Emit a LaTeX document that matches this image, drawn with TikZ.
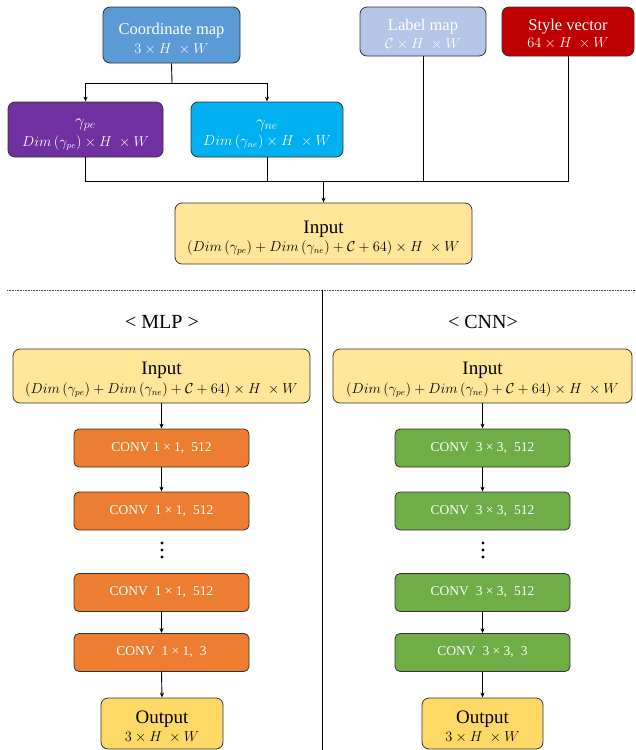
\documentclass[tikz,border=0pt]{standalone}
\usepackage{fontspec}
\setmainfont{Liberation Serif}
\usetikzlibrary{arrows.meta,calc}
\definecolor{cblue}{HTML}{5B9BD5}
\definecolor{clight}{HTML}{B4C7E7}
\definecolor{cred}{HTML}{C00000}
\definecolor{cpurple}{HTML}{7030A0}
\definecolor{ccyan}{HTML}{00B0F0}
\definecolor{cinput}{HTML}{FFE699}
\definecolor{cout}{HTML}{FFD966}
\definecolor{corange}{HTML}{ED7D31}
\definecolor{cgreen}{HTML}{70AD47}
\newcommand{\szT}{\fontsize{16.5}{18}\selectfont}
\newcommand{\szS}{\fontsize{13.5}{15}\selectfont}
\newcommand{\szI}{\fontsize{19}{21}\selectfont}
\newcommand{\lowr}[2]{\raisebox{-#1}[\height][\depth]{#2}}
\newcommand{\inform}{$(Dim\left(\gamma_{pe}\right)+Dim\left(\gamma_{ne}\right)+\mathcal{C}+64)\times H\;\times W$}
\begin{document}
\begin{tikzpicture}[x=1pt,y=-1pt,
  box/.style={draw=black!80, line width=0.8pt, rounded corners=7pt, align=center, inner sep=1pt},
  conv/.style={box, rounded corners=5pt, minimum width=175pt, minimum height=38pt, text=white, font=\fontsize{13.5}{15}\selectfont},
  arr/.style={-{Stealth[length=5pt,width=4pt]}, line width=0.9pt},
  ln/.style={line width=0.9pt}]
\useasboundingbox (0,0) rectangle (636,750);

% top section
\node[box, fill=cblue, text=white, minimum width=137pt, minimum height=56pt] (cmap) at (171.5,35)
  {\szT\lowr{4pt}{Coordinate map}\\[4pt] \szS\lowr{4pt}{$3\times H\;\times W$}};
\node[box, fill=clight, text=white, minimum width=126pt, minimum height=49pt] (lmap) at (423,31.5)
  {\szT\lowr{3pt}{Label map}\\[3.5pt] \szS\lowr{3pt}{$\mathcal{C}\times H\;\times W$}};
\node[box, fill=cred, text=white, minimum width=132pt, minimum height=49pt] (svec) at (568,31.5)
  {\szT\lowr{2.5pt}{Style vector}\\[3pt] \szS\lowr{2.5pt}{$64\times H\;\times W$}};
\node[box, fill=cpurple, text=white, minimum width=155pt, minimum height=55pt] (gpe) at (85.5,129.5)
  {\fontsize{18}{16}\selectfont\lowr{5pt}{$\gamma_{pe}$}\\[3pt] \szS\lowr{5pt}{$Dim\left(\gamma_{pe}\right)\times H\;\times W$}};
\node[box, fill=ccyan, text=white, minimum width=152pt, minimum height=55pt] (gne) at (267,129.5)
  {\fontsize{18}{16}\selectfont\lowr{5pt}{$\gamma_{ne}$}\\[3pt] \szS\lowr{5pt}{$Dim\left(\gamma_{ne}\right)\times H\;\times W$}};
\node[box, fill=cinput, minimum width=297pt, minimum height=61pt] (inp) at (323.5,233.5)
  {\szI\lowr{4.5pt}{Input}\\[2pt] \szS\lowr{4.5pt}{\inform}};

\coordinate (j1) at (172,83);
\coordinate (bus) at (0,181);
\draw[ln] (cmap.south) -- (j1);
\draw[arr] (j1) -| (gpe.north);
\draw[arr] (j1) -| (gne.north);
\draw[ln] (gpe.south) -- (gpe.south |- bus) -- (svec.south |- bus) -- (svec.south);
\draw[ln] (gne.south) -- (gne.south |- bus);
\draw[ln] (lmap.south) -- (lmap.south |- bus);
\draw[arr] (inp.north |- bus) -- (inp.north);

% separators
\coordinate (dl) at (7,290);
\coordinate (dr) at (636,290);
\coordinate (vt) at (322,290);
\coordinate (vb) at (322,750);
\draw[line width=0.7pt, black!70, dash pattern=on 0.8pt off 0.8pt] (dl) -- (dr);
\draw[line width=0.8pt] (vt) -- (vb);

% MLP column
\node[font=\fontsize{20}{22}\selectfont] (mlp) at (162,322) {< MLP >};
\node[box, fill=cinput, minimum width=297pt, minimum height=54pt] (inL) at (161.5,376)
  {\szI\lowr{4pt}{Input}\\[3pt] \szS\lowr{4pt}{\inform}};
\node[conv, fill=corange] (l1) at (161.5,448) {CONV 1 × 1,\; 512};
\node[conv, fill=corange] (l2) at (161.5,511) {CONV\; 1 × 1,\; 512};
\node[conv, fill=corange] (l3) at (161.5,592.5) {CONV\; 1 × 1,\; 512};
\node[conv, fill=corange] (l4) at (161.5,652.5) {CONV\; 1 × 1,\; 3};
\node[box, fill=cout, minimum width=122pt, minimum height=51pt] (outL) at (162,723.5)
  {\szI\lowr{3.5pt}{Output}\\[3pt] \szS\lowr{3.5pt}{$3\times H\;\times W$}};
\fill (162,543) circle (1.6) (162,550) circle (1.6) (162,557) circle (1.6);
\draw[arr] (inL.south) -- (l1.north);
\draw[arr] (l1.south) -- (l2.north);
\draw[arr] (l3.south) -- (l4.north);
\draw[arr] (l4.south) -- (outL.north);

% CNN column
\node[font=\fontsize{20}{22}\selectfont] (cnn) at (483,322) {< CNN>};
\node[box, fill=cinput, minimum width=299pt, minimum height=54pt] (inR) at (482.5,376)
  {\szI\lowr{4pt}{Input}\\[3pt] \szS\lowr{4pt}{\inform}};
\node[conv, fill=cgreen] (r1) at (482.5,448) {CONV\; 3 × 3,\; 512};
\node[conv, fill=cgreen] (r2) at (482.5,511) {CONV\; 3 × 3,\; 512};
\node[conv, fill=cgreen] (r3) at (482.5,592.5) {CONV\; 3 × 3,\; 512};
\node[conv, fill=cgreen] (r4) at (482.5,652.5) {CONV\; 3 × 3,\; 3};
\node[box, fill=cout, minimum width=121pt, minimum height=51pt] (outR) at (482.5,723.5)
  {\szI\lowr{3.5pt}{Output}\\[3pt] \szS\lowr{3.5pt}{$3\times H\;\times W$}};
\fill (483,543) circle (1.6) (483,550) circle (1.6) (483,557) circle (1.6);
\draw[arr] (inR.south) -- (r1.north);
\draw[arr] (r1.south) -- (r2.north);
\draw[arr] (r3.south) -- (r4.north);
\draw[arr] (r4.south) -- (outR.north);
\end{tikzpicture}
\end{document}
